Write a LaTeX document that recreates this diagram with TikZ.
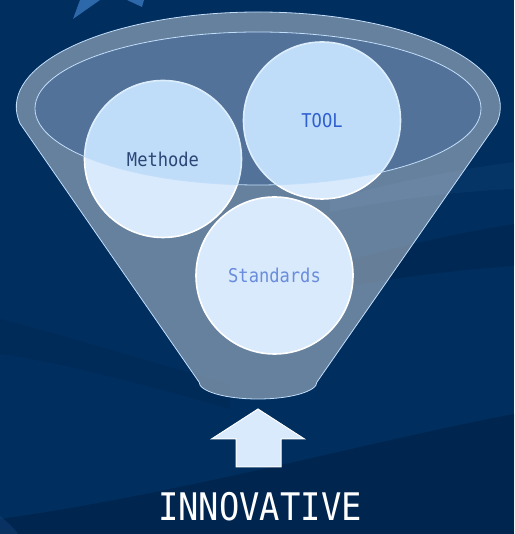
\documentclass[tikz,border=0pt]{standalone}
\usepackage{fontspec}
\newfontfamily\monofont[FakeStretch=0.9]{DejaVu Sans Mono}
\newfontfamily\capfont[FakeStretch=0.89]{DejaVu Sans Mono}
\usetikzlibrary{positioning}
\definecolor{bgBlue}{RGB}{  0,  46,  94}
\definecolor{bgDark}{RGB}{  0,  28,  62}
\definecolor{bgLight}{RGB}{ 30,  80, 140}
\definecolor{starBlue}{RGB}{ 45, 105, 170}
\definecolor{rimEdge}{RGB}{195, 222, 250}
\definecolor{bubFill}{RGB}{217, 234, 252}
\definecolor{bubTint}{RGB}{117, 186, 244}
\definecolor{methText}{RGB}{ 20,  30,  75}
\definecolor{toolText}{RGB}{ 25,  65, 195}
\definecolor{stdText}{RGB}{105, 140, 220}
\tikzset{
  funnelbody/.style={
    fill=white, fill opacity=0.4, draw=rimEdge, line width=0.8pt,
  },
  rimline/.style={
    draw=rimEdge, line width=0.8pt,
  },
  bubble/.style={
    circle, minimum size=157pt, inner sep=0pt, fill=bubFill,
    draw=white, line width=1.6pt, text=#1,
    font=\monofont\fontsize{19}{19}\selectfont,
  },
  uparrow/.style={
    fill=bubFill, draw=white, line width=1pt, line join=miter,
  },
}

\begin{document}
\begin{tikzpicture}[x=1pt, y=1pt]

% =========================================================================
% backdrop
% =========================================================================

\useasboundingbox (0,0) rectangle (514,534);
\fill[bgBlue] (0,0) rectangle (514,534);
\fill[bgDark, opacity=0.45]
  (0,0) -- (514,0) -- (514,120) .. controls (380,95) and (180,40) .. (0,15) -- cycle;
\fill[bgDark, opacity=0.3]
  (514,310) .. controls (420,295) and (330,270) .. (250,245)
  -- (250,225) .. controls (340,250) and (430,262) .. (514,268) -- cycle;
\fill[bgDark, opacity=0.15]
  (0,215) .. controls (60,200) and (150,172) .. (230,150)
  -- (230,125) .. controls (150,148) and (60,172) .. (0,180) -- cycle;
\fill[bgLight, opacity=0.18]
  (514,372) .. controls (440,362) and (380,348) .. (330,334)
  -- (330,322) .. controls (390,334) and (450,342) .. (514,345) -- cycle;
\fill[bgLight, opacity=0.3]
  (0,0) -- (0,18) .. controls (8,12) and (14,6) .. (18,0) -- cycle;

% star tips peeking in at the top
\fill[starBlue] (80,534) -- (73,515) -- (100,534) -- cycle;
\fill[starBlue] (127,534) -- (142,527) -- (144,534) -- cycle;

% =========================================================================
% funnel
% =========================================================================

\coordinate (rim) at (258,427);
\coordinate (neck) at (258,152);

\path[funnelbody]
  (20,410.5) arc[start angle=190, end angle=-10, x radius=242, y radius=95]
  -- (317,152) arc[start angle=0, end angle=-180, x radius=59, y radius=17]
  -- cycle;

% shaded mouth under the bubbles
\fill[black!80!blue, opacity=0.3] (258,425.5) ellipse[x radius=223, y radius=76.5];

% =========================================================================
% bubbles
% =========================================================================

\node[bubble=methText] (meth) at (163,375)     {Methode};
\node[bubble=toolText] (tool) at (322,413.5)   {TOOL};
\node[bubble=stdText]  (std)  at (274.5,258.5) {Standards};

% mouth of the funnel over the bubbles
\path[rimline, fill=bubTint, fill opacity=0.25]
  (258,425.5) ellipse[x radius=223, y radius=76.5];

% =========================================================================
% arrow and caption
% =========================================================================

\draw[uparrow] (236,67) -- (236,95) -- (211.5,95) -- (258,125)
  -- (304.5,95) -- (281,95) -- (281,67) -- cycle;

\node[text=white, font=\capfont\fontsize{38}{38}\selectfont]
  (innov) at (260,27) {INNOVATIVE};

\end{tikzpicture}
\end{document}
